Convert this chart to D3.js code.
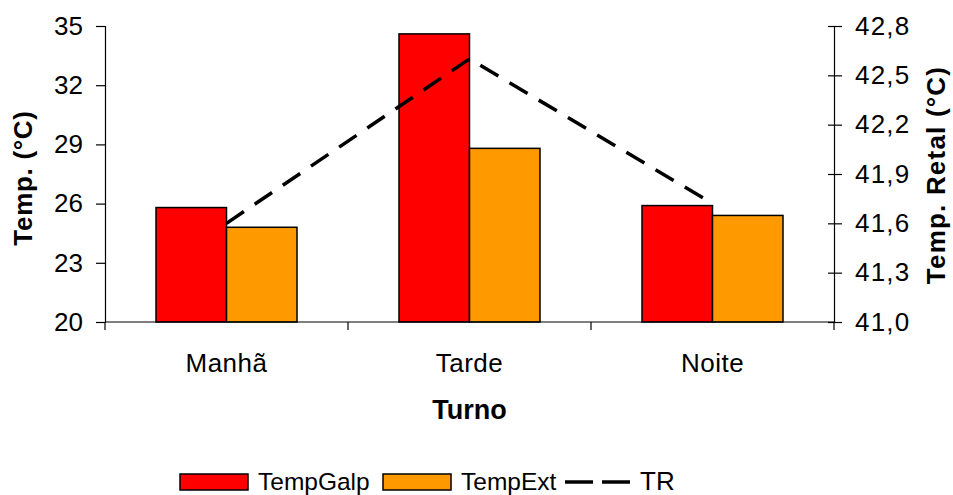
<!DOCTYPE html>
<html><head><meta charset="utf-8">
<script src="https://cdn.jsdelivr.net/npm/d3@7"></script>
<style>body{margin:0;background:#fff}svg{display:block;font-family:"Liberation Sans",Arial,sans-serif}</style>
</head><body><svg id="c" width="953" height="495"></svg>
<script>
const categories = ["Manhã", "Tarde", "Noite"];
const tempGalp = [25.8, 34.6, 25.9];
const tempExt = [24.8, 28.8, 25.4];
const tr = [41.6, 42.6, 41.72];
const leftTicks = [20, 23, 26, 29, 32, 35];
const rightTicks = [41.0, 41.3, 41.6, 41.9, 42.2, 42.5, 42.8];
const seriesNames = ["TempGalp", "TempExt", "TR"];
const colors = ["#ff0000", "#ff9900"];

const svg = d3.select("#c");
const L = 105, R = 834, T = 26, B = 322;
const x = d3.scaleBand().domain(categories).range([L, R]);
const yL = d3.scaleLinear().domain([20, 35]).range([B, T]);
const yR = d3.scaleLinear().domain([41.0, 42.8]).range([B, T]);
const barW = 70.5;

// bars
categories.forEach((c, i) => {
  const cx = x(c) + x.bandwidth() / 2;
  [tempGalp[i], tempExt[i]].forEach((v, j) => {
    svg.append("rect")
      .attr("x", cx - barW + j * barW).attr("y", yL(v))
      .attr("width", barW).attr("height", yL(20) - yL(v))
      .attr("fill", colors[j]).attr("stroke", "#000").attr("stroke-width", 1.5);
  });
});

// axes
const axL = svg.append("g").attr("transform", `translate(${L},0)`)
  .call(d3.axisLeft(yL).tickValues(leftTicks).tickSize(9).tickPadding(13).tickFormat(d3.format("d")));
const axR = svg.append("g").attr("transform", `translate(${R},0)`)
  .call(d3.axisRight(yR).tickValues(rightTicks).tickSize(8).tickPadding(13).tickFormat(d => d.toFixed(1).replace(".", ",")));
axR.selectAll(".tick line").attr("x1", -6);
const axB = svg.append("g").attr("transform", `translate(0,${B})`)
  .call(d3.axisBottom(x).tickSize(0).tickPadding(32));
[axL, axR, axB].forEach(a => {
  a.attr("font-size", null).attr("font-family", null);
  a.select(".domain").attr("stroke", "#000").attr("stroke-width", 1.2);
  a.selectAll(".tick line").attr("stroke", "#000").attr("stroke-width", 1.2);
  a.selectAll("text").attr("font-size", 26).attr("fill", "#000");
});
axR.selectAll("text").attr("letter-spacing", 1.2);
axB.select(".domain").attr("d", `M${L},0H${R}`);
axB.selectAll("text").attr("letter-spacing", 0.5);
// category separators
x.domain().slice(1).forEach(c => {
  svg.append("line").attr("x1", x(c)).attr("x2", x(c)).attr("y1", B).attr("y2", B + 8)
    .attr("stroke", "#000").attr("stroke-width", 1.2);
});
svg.append("line").attr("x1", L).attr("x2", L).attr("y1", B).attr("y2", B + 8).attr("stroke", "#000").attr("stroke-width", 1.2);
svg.append("line").attr("x1", R).attr("x2", R).attr("y1", B).attr("y2", B + 8).attr("stroke", "#000").attr("stroke-width", 1.2);

// TR line
const line = d3.line().x((d, i) => x(categories[i]) + x.bandwidth() / 2).y(d => yR(d));
svg.append("path").datum(tr).attr("d", line).attr("fill", "none")
  .attr("stroke", "#000").attr("stroke-width", 3.5).attr("stroke-dasharray", "21,13");

// titles
svg.append("text").attr("transform", "translate(32,178) rotate(-90)").attr("text-anchor", "middle")
  .attr("font-size", 26).attr("font-weight", "bold").attr("letter-spacing", 0.7).text("Temp. (°C)");
svg.append("text").attr("transform", "translate(945,175) rotate(-90)").attr("text-anchor", "middle")
  .attr("font-size", 26).attr("font-weight", "bold").attr("letter-spacing", 1.2).text("Temp. Retal (°C)");
svg.append("text").attr("x", (L + R) / 2).attr("y", 419).attr("text-anchor", "middle")
  .attr("font-size", 27).attr("font-weight", "bold").text("Turno");

// legend
const lg = svg.append("g").attr("font-size", 24.5);
const items = [{x: 180, t: 0}, {x: 383, t: 1}];
items.forEach(it => {
  lg.append("rect").attr("x", it.x).attr("y", 474).attr("width", 68).attr("height", 16)
    .attr("fill", colors[it.t]).attr("stroke", "#000").attr("stroke-width", 1.5);
  lg.append("text").attr("x", it.x + 78).attr("y", 490).text(seriesNames[it.t]);
});
lg.append("line").attr("x1", 565).attr("x2", 632).attr("y1", 482).attr("y2", 482)
  .attr("stroke", "#000").attr("stroke-width", 3.5).attr("stroke-dasharray", "28,9");
lg.append("text").attr("x", 640).attr("y", 490).attr("font-size", 26).text(seriesNames[2]);
</script></body></html>
